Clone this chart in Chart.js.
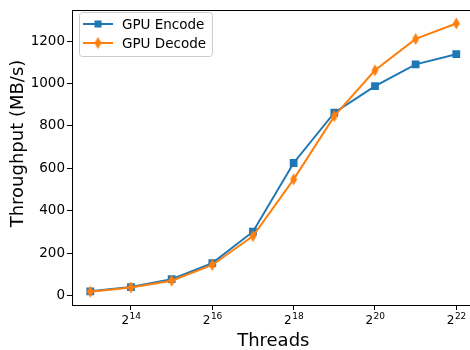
<!DOCTYPE html>
<html>
<head>
<meta charset="utf-8">
<script src="https://cdn.jsdelivr.net/npm/chart.js@4.4.0/dist/chart.umd.min.js"></script>
<style>
  html, body { margin: 0; padding: 0; background: #fff; overflow: hidden; }
  /* o gráfico original é cortado à direita, por isso o canvas é mais largo que a janela */
  #wrap { width: 477px; height: 350px; position: relative; }
</style>
</head>
<body>
<div id="wrap"><canvas id="chart"></canvas></div>
<script>
// Dados
const threadExponents = [13, 14, 15, 16, 17, 18, 19, 20, 21, 22];
const encodeValues = [20, 40, 77, 153, 301, 625, 862, 987, 1090, 1138];
const decodeValues = [18, 38, 70, 144, 280, 548, 846, 1062, 1210, 1283];
const xTickExponents = [14, 16, 18, 20, 22];
const yTickValues = [0, 200, 400, 600, 800, 1000, 1200];

const BLUE = '#1f77b4';
const ORANGE = '#ff7f0e';
const FONT = 'DejaVu Sans';

// Marcador losango fino (estilo 'd' do matplotlib)
function thinDiamond(color) {
    const c = document.createElement('canvas');
    c.width = 9; c.height = 13;
    const g = c.getContext('2d');
    g.fillStyle = color;
    g.beginPath();
    g.moveTo(4.5, 0.5); g.lineTo(8, 6.5); g.lineTo(4.5, 12.5); g.lineTo(1, 6.5);
    g.closePath();
    g.fill();
    return c;
}
const diamond = thinDiamond(ORANGE);

const toPoints = (vals) => threadExponents.map((e, i) => ({ x: Math.pow(2, e), y: vals[i] }));

// Moldura, rótulos 2^n, títulos dos eixos e legenda
const framePlugin = {
    id: 'frame',
    afterDraw(chart) {
        const { ctx, chartArea: a } = chart;
        const xs = chart.scales.x;
        ctx.save();
        ctx.strokeStyle = '#000';
        ctx.lineWidth = 1;
        ctx.strokeRect(Math.round(a.left) + 0.5, Math.round(a.top) + 0.5,
            Math.round(a.right - a.left), Math.round(a.bottom - a.top));

        // rótulos do eixo x com expoente
        ctx.fillStyle = '#000';
        ctx.textBaseline = 'alphabetic';
        ctx.textAlign = 'left';
        xTickExponents.forEach(e => {
            const px = xs.getPixelForValue(Math.pow(2, e));
            ctx.font = '12px "' + FONT + '"';
            const wb = ctx.measureText('2').width;
            ctx.font = '9px "' + FONT + '"';
            const we = ctx.measureText(String(e)).width;
            const x0 = px - (wb + we) / 2;
            ctx.font = '12px "' + FONT + '"';
            ctx.fillText('2', x0, 324);
            ctx.font = '9px "' + FONT + '"';
            ctx.fillText(String(e), x0 + wb + 0.5, 319);
        });

        // títulos dos eixos
        ctx.font = '18px "' + FONT + '"';
        ctx.textAlign = 'center';
        ctx.fillText('Threads', (a.left + a.right) / 2, 346);
        ctx.save();
        ctx.translate(23, 143.5);
        ctx.rotate(-Math.PI / 2);
        ctx.fillText('Throughput (MB/s)', 0, 0);
        ctx.restore();

        // legenda
        const lx = 79, ly = 12, lw = 133, lh = 44;
        ctx.fillStyle = 'rgba(255,255,255,0.8)';
        ctx.strokeStyle = '#cccccc';
        ctx.lineWidth = 1;
        ctx.beginPath();
        ctx.roundRect(lx + 0.5, ly + 0.5, lw, lh, 3);
        ctx.fill();
        ctx.stroke();

        const items = [
            { label: 'GPU Encode', color: BLUE, y: 24, marker: 'square' },
            { label: 'GPU Decode', color: ORANGE, y: 43, marker: 'diamond' }
        ];
        ctx.textAlign = 'left';
        items.forEach(it => {
            ctx.strokeStyle = it.color;
            ctx.lineWidth = 2;
            ctx.beginPath();
            ctx.moveTo(83, it.y); ctx.lineTo(113, it.y);
            ctx.stroke();
            ctx.fillStyle = it.color;
            if (it.marker === 'square') {
                ctx.fillRect(98 - 3.5, it.y - 3.5, 7, 7);
            } else {
                ctx.drawImage(diamond, 98 - 4.5, it.y - 6.5);
            }
            ctx.fillStyle = '#000';
            ctx.font = '13.5px "' + FONT + '"';
            ctx.textBaseline = 'middle';
            ctx.fillText(it.label, 122, it.y + 1);
        });
        ctx.restore();
    }
};

const ctx = document.getElementById('chart').getContext('2d');
new Chart(ctx, {
    type: 'line',
    data: {
        datasets: [
            {
                label: 'GPU Encode',
                data: toPoints(encodeValues),
                borderColor: BLUE,
                backgroundColor: BLUE,
                borderWidth: 2,
                pointStyle: 'rect',
                pointRadius: 5.5,
                pointBorderWidth: 0,
                pointHoverRadius: 5.5,
                tension: 0,
                order: 1
            },
            {
                label: 'GPU Decode',
                data: toPoints(decodeValues),
                borderColor: ORANGE,
                backgroundColor: ORANGE,
                borderWidth: 2,
                pointStyle: diamond,
                tension: 0,
                order: 0
            }
        ]
    },
    options: {
        responsive: true,
        maintainAspectRatio: false,
        animation: false,
        layout: { autoPadding: false, padding: { top: 5, right: 2.4, left: 0, bottom: 0 } },
        plugins: {
            legend: { display: false },
            tooltip: { enabled: false }
        },
        scales: {
            x: {
                type: 'logarithmic',
                min: Math.pow(2, 12.55),
                max: Math.pow(2, 22.45),
                afterBuildTicks(scale) {
                    scale.ticks = xTickExponents.map(e => ({ value: Math.pow(2, e) }));
                },
                afterFit(scale) { scale.height = 45; },
                grid: { display: true, drawOnChartArea: false, drawTicks: true, tickLength: 5, color: '#000' },
                border: { display: false },
                ticks: {
                    autoSkip: false,
                    maxRotation: 0,
                    callback: () => ''
                },
                title: { display: false }
            },
            y: {
                min: -44.7,
                max: 1346,
                afterBuildTicks(scale) {
                    scale.ticks = yTickValues.map(v => ({ value: v }));
                },
                afterFit(scale) { scale.width = 72; },
                grid: { display: true, drawOnChartArea: false, drawTicks: true, tickLength: 5, color: '#000' },
                border: { display: false },
                ticks: {
                    color: '#000',
                    padding: 2,
                    font: { family: FONT, size: 13.5 },
                    callback: (v) => String(v)
                },
                title: { display: false }
            }
        }
    },
    plugins: [framePlugin]
});
</script>
</body>
</html>
